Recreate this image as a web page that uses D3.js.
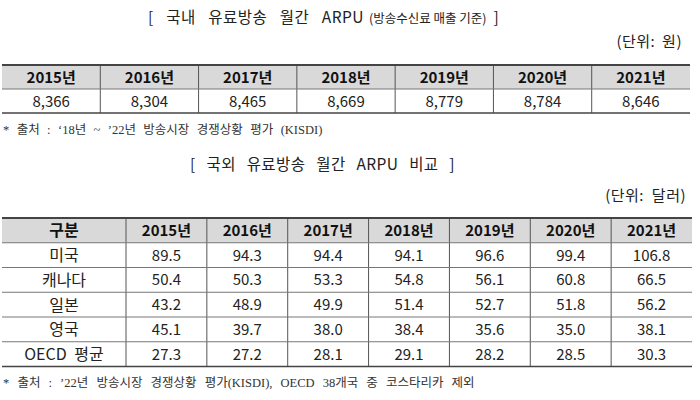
<!DOCTYPE html>
<html><head><meta charset="utf-8">
<script src="https://cdn.jsdelivr.net/npm/d3@7"></script>
<style>
body{margin:0;background:#fff;}
svg{display:block;}
</style></head>
<body>
<script>
const years = ["2015년","2016년","2017년","2018년","2019년","2020년","2021년"];
const domesticARPU = [8366, 8304, 8465, 8669, 8779, 8784, 8646];
const countries = ["미국","캐나다","일본","영국","OECD 평균"];
const usa = [89.5, 94.3, 94.4, 94.1, 96.6, 99.4, 106.8];
const canada = [50.4, 50.3, 53.3, 54.8, 56.1, 60.8, 66.5];
const japan = [43.2, 48.9, 49.9, 51.4, 52.7, 51.8, 56.2];
const uk = [45.1, 39.7, 38.0, 38.4, 35.6, 35.0, 38.1];
const oecd = [27.3, 27.2, 28.1, 29.1, 28.2, 28.5, 30.3];
const foreignSeries = [usa, canada, japan, uk, oecd];

const title1 = "[ 국내 유료방송 월간 ARPU";
const title1Sub = "(방송수신료 매출 기준)";
const unit1 = "(단위: 원)";
const note1 = "* 출처 : ‘18년 ~ ’22년 방송시장 경쟁상황 평가 (KISDI)";
const title2 = "[ 국외 유료방송 월간 ARPU 비교 ]";
const unit2 = "(단위: 달러)";
const note2 = "* 출처 : ’22년 방송시장 경쟁상황 평가(KISDI), OECD 38개국 중 코스타리카 제외";
const firstColHeader = "구분";

const W = 700, H = 400;
const sans = "'Noto Sans CJK KR','Noto Sans',sans-serif";
const serif = "'Liberation Serif','Noto Sans CJK KR',serif";
const svg = d3.select("body").append("svg").attr("width", W).attr("height", H);

// ---------- Table 1 ----------
const x1 = d3.scaleBand().domain(years).range([2, 690]);
const y1 = d3.scaleBand().domain(["h","v"]).range([65, 113]);

const t1Title = svg.append("text").attr("x", 148).attr("y", 23)
  .attr("font-family", sans).attr("font-size", 15.5).attr("fill", "#222");
t1Title.append("tspan").attr("word-spacing", 8.5).attr("letter-spacing", 0.5).text(title1);
t1Title.append("tspan").attr("font-size", 12.5).attr("dx", 5).text(title1Sub);
t1Title.append("tspan").attr("dx", 7).text("]");

svg.append("text").attr("x", 682).attr("y", 47).attr("text-anchor", "end")
  .attr("font-family", sans).attr("font-size", 15).attr("word-spacing", 3).attr("letter-spacing", 0.5)
  .attr("fill", "#222").text(unit1);

svg.append("rect").attr("x", x1.range()[0]).attr("y", y1("h"))
  .attr("width", x1.range()[1] - x1.range()[0]).attr("height", y1.bandwidth()).attr("fill", "#d9d9d9");

svg.append("g").selectAll("text").data(years).join("text")
  .attr("x", d => x1(d) + x1.bandwidth()/2).attr("y", y1("h") + y1.bandwidth()/2 + 5.5)
  .attr("text-anchor", "middle").attr("font-family", sans).attr("font-weight", "bold")
  .attr("font-size", 15).attr("fill", "#111").text(d => d);

const fmt = d3.format(",");
svg.append("g").selectAll("text").data(domesticARPU).join("text")
  .attr("x", (d, i) => x1(years[i]) + x1.bandwidth()/2).attr("y", y1("v") + y1.bandwidth()/2 + 5.5)
  .attr("text-anchor", "middle").attr("font-family", sans)
  .attr("font-size", 15).attr("fill", "#222").text(d => fmt(d));

// lines
svg.append("g").selectAll("line").data(years.slice(1)).join("line")
  .attr("x1", d => x1(d)).attr("x2", d => x1(d))
  .attr("y1", y1.range()[0]).attr("y2", y1.range()[1])
  .attr("stroke", "#555").attr("stroke-width", 1);
svg.append("line").attr("x1", x1.range()[0]).attr("x2", x1.range()[1])
  .attr("y1", y1("v")).attr("y2", y1("v")).attr("stroke", "#777").attr("stroke-width", 1);
svg.append("line").attr("x1", x1.range()[0]).attr("x2", x1.range()[1])
  .attr("y1", y1.range()[0]).attr("y2", y1.range()[0]).attr("stroke", "#444").attr("stroke-width", 2);
svg.append("line").attr("x1", x1.range()[0]).attr("x2", x1.range()[1])
  .attr("y1", y1.range()[1]).attr("y2", y1.range()[1]).attr("stroke", "#444").attr("stroke-width", 1.5);

svg.append("text").attr("x", 3).attr("y", 134)
  .attr("font-family", serif).attr("font-size", 12.5).attr("word-spacing", 4.3)
  .attr("fill", "#333").text(note1);

// ---------- Table 2 ----------
svg.append("text").attr("x", 190).attr("y", 170)
  .attr("font-family", sans).attr("font-size", 15.5).attr("word-spacing", 7).attr("letter-spacing", 0.4)
  .attr("fill", "#222").text(title2);
svg.append("text").attr("x", 686).attr("y", 201).attr("text-anchor", "end")
  .attr("font-family", sans).attr("font-size", 15).attr("word-spacing", 4).attr("letter-spacing", 0.5)
  .attr("fill", "#222").text(unit2);

const left2 = 2, labelEnd = 126, right2 = 692;
const x2 = d3.scaleBand().domain(years).range([labelEnd, right2]);
const rowsKeys = ["h"].concat(countries);
const y2 = d3.scaleBand().domain(rowsKeys).range([218, 366.5]);

svg.append("rect").attr("x", left2).attr("y", y2("h"))
  .attr("width", right2 - left2).attr("height", y2.bandwidth()).attr("fill", "#d9d9d9");

svg.append("text").attr("x", (left2 + labelEnd)/2).attr("y", y2("h") + y2.bandwidth()/2 + 6)
  .attr("text-anchor", "middle").attr("font-family", sans).attr("font-weight", "bold")
  .attr("font-size", 16).attr("fill", "#111").text(firstColHeader);

svg.append("g").selectAll("text").data(countries).join("text")
  .attr("x", (left2 + labelEnd)/2).attr("y", d => y2(d) + y2.bandwidth()/2 + 6)
  .attr("text-anchor", "middle").attr("font-family", sans).attr("word-spacing", 4)
  .attr("font-size", 16).attr("fill", "#222").text(d => d);

svg.append("g").selectAll("text").data(years).join("text")
  .attr("x", d => x2(d) + x2.bandwidth()/2).attr("y", y2("h") + y2.bandwidth()/2 + 5.5)
  .attr("text-anchor", "middle").attr("font-family", sans).attr("font-weight", "bold")
  .attr("font-size", 15).attr("fill", "#111").text(d => d);

const cells = [];
foreignSeries.forEach((s, r) => s.forEach((v, c) => cells.push({r, c, v})));
svg.append("g").selectAll("text").data(cells).join("text")
  .attr("x", d => x2(years[d.c]) + x2.bandwidth()/2)
  .attr("y", d => y2(countries[d.r]) + y2.bandwidth()/2 + 5.5)
  .attr("text-anchor", "middle").attr("font-family", sans)
  .attr("font-size", 15).attr("fill", "#222").text(d => d.v.toFixed(1));

// lines
svg.append("g").selectAll("line").data([labelEnd].concat(years.slice(1).map(d => x2(d)))).join("line")
  .attr("x1", d => d).attr("x2", d => d)
  .attr("y1", y2.range()[0]).attr("y2", y2.range()[1])
  .attr("stroke", "#555").attr("stroke-width", 1);
svg.append("g").selectAll("line").data(countries).join("line")
  .attr("x1", left2).attr("x2", right2)
  .attr("y1", d => y2(d)).attr("y2", d => y2(d))
  .attr("stroke", "#777").attr("stroke-width", 1);
svg.append("line").attr("x1", left2).attr("x2", right2)
  .attr("y1", y2.range()[0]).attr("y2", y2.range()[0]).attr("stroke", "#444").attr("stroke-width", 2);
svg.append("line").attr("x1", left2).attr("x2", right2)
  .attr("y1", y2.range()[1]).attr("y2", y2.range()[1]).attr("stroke", "#444").attr("stroke-width", 1.5);

svg.append("text").attr("x", 3).attr("y", 387)
  .attr("font-family", serif).attr("font-size", 12.5).attr("word-spacing", 5)
  .attr("fill", "#333").text(note2);
</script>
</body></html>
